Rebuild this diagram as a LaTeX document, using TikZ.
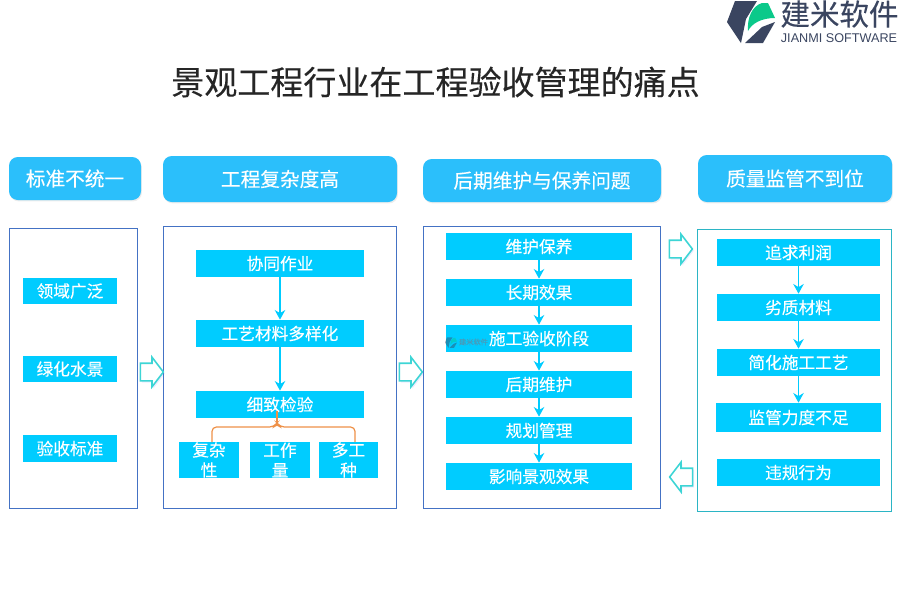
\documentclass[tikz,border=0pt]{standalone}
\usepackage{fontspec}
\setmainfont[FakeBold=0.25]{Noto Sans CJK SC}
\newfontfamily\latinfont{Liberation Sans}
\usetikzlibrary{shapes.arrows,shadows,arrows.meta}
\definecolor{headblue}{HTML}{2BBFFB}
\definecolor{itemblue}{HTML}{00CCFF}
\definecolor{framein}{HTML}{4472C4}
\definecolor{frameteal}{HTML}{2BB5C5}
\definecolor{arrowteal}{HTML}{3DD5D5}
\definecolor{logodark}{HTML}{3A4560}
\definecolor{logogreen}{HTML}{0BC98A}
\definecolor{bracketorange}{HTML}{EE9148}
\tikzset{
  wh/.style 2 args={minimum width=#1*0.02cm, minimum height=#2*0.02cm},
  headbox/.style={fill=headblue, rounded corners=5pt, inner sep=0pt, text=white, font=\fontsize{11.2pt}{13pt}\selectfont,
    drop shadow={shadow xshift=0.5pt, shadow yshift=-0.8pt, opacity=0.15}},
  itembox/.style={fill=itemblue, inner sep=0pt, text=white, font=\fontsize{9.5pt}{11.4pt}\selectfont, align=center},
  flow/.style={draw=itemblue, line width=0.7pt, -{Stealth[length=5.5pt,width=6pt]}},
  frameline/.style={line width=0.6pt},
  blockarrow/.style={single arrow, draw=arrowteal, fill=white, line width=0.9pt, inner xsep=0pt, inner ysep=0.16cm,
    minimum height=23*0.02cm, single arrow head extend=0.12cm, single arrow tip angle=105,
    drop shadow={shadow xshift=0.8pt, shadow yshift=-1pt, opacity=0.12, fill=blue!60}},
  bracket/.style={draw=bracketorange, line width=0.7pt, rounded corners=2.5pt},
  logomark/.pic={
    \fill[logodark] (735,1) -- (757,1) -- (746,19) -- (741,43) -- (727,22) -- cycle;
    \fill[logodark] (745,43) -- (762,27) -- (775,22) -- (763,43) -- cycle;
    \fill[logogreen] (748,31) .. controls (747,18) and (752,6) .. (762,3) -- (768,3) -- (775,18)
      .. controls (762,18) and (752,23) .. (748,31) -- cycle;
  }
}
\begin{document}
\begin{tikzpicture}[x=0.02cm,y=-0.02cm]
  \useasboundingbox (0,0) rectangle (900,600);
  % logo
  \pic at (0,0) {logomark};
  \node[text=logodark, inner sep=0pt, font=\fontsize{16.8pt}{18pt}\selectfont] (logoname) at (839.5,14) {建米软件};
  \node[text=logodark, inner sep=0pt, font=\latinfont\fontsize{7.2pt}{8pt}\selectfont] (logoen) at (839,38) {JIANMI SOFTWARE};
  % title
  \node[inner sep=0pt, text=black!85, font=\fontsize{18.8pt}{22pt}\selectfont] (title) at (435.5,82) {景观工程行业在工程验收管理的痛点};
  % headers
  \node[headbox,wh={132}{43}] (head1) at (75,178.5) {标准不统一};
  \node[headbox,wh={234}{46}] (head2) at (280,179) {工程复杂度高};
  \node[headbox,wh={238}{43}] (head3) at (542,180.5) {后期维护与保养问题};
  \node[headbox,wh={194}{47}] (head4) at (795,178.5) {质量监管不到位};
  % frames
  \draw[framein,frameline] (9.5,228.5) rectangle (137.5,508.5);
  \draw[framein,frameline] (163.5,226.5) rectangle (396.5,508.5);
  \draw[framein,frameline] (423.5,226.5) rectangle (660.5,508.5);
  \draw[frameteal,frameline] (697.5,229.5) rectangle (891.5,511.5);
  % column 1
  \foreach \t/\y[count=\n] in {领域广泛/291,绿化水景/369,验收标准/448.5}{
    \node[itembox,wh={94}{26.5}] (a\n) at (70,\y) {\t};
  }
  % column 2
  \foreach \t/\y[count=\n] in {协同作业/263.5,工艺材料多样化/333.5,细致检验/404.5}{
    \node[itembox,wh={168}{27}] (b\n) at (280,\y) {\t};
  }
  \draw[flow] (b1) -- (b2);
  \draw[flow] (b2) -- (b3);
  \node[itembox,wh={60}{36}] (c1) at (209,460) {复杂\\性};
  \node[itembox,wh={60}{36}] (c2) at (280,460) {工作\\量};
  \node[itembox,wh={59}{36}] (c3) at (348.5,460) {多工\\种};
  \coordinate (brtop) at (277,411);
  \coordinate (brmid) at (277,423);
  \coordinate (brleft) at (212,442);
  \coordinate (brright) at (355,442);
  \draw[bracket] (brleft) |- (274,427) -- (brmid) -- (280,427) -| (brright);
  \draw[bracket] (brtop) -- (brmid);
  % column 3
  \foreach \t/\y[count=\n] in {维护保养/246.5,长期效果/292.5,施工验收阶段/338.5,后期维护/384.5,规划管理/430.5,影响景观效果/476.5}{
    \node[itembox,wh={186}{27}] (d\n) at (539,\y) {\t};
  }
  \foreach \i[count=\n from 2] in {1,...,5}{
    \draw[flow] (d\i) -- (d\n);
  }
  % column 4
  \foreach \t/\y[count=\n] in {追求利润/252.5,劣质材料/307.5,简化施工工艺/362.5,监管力度不足/417.5,违规行为/472.5}{
    \ifnum\n=4
      \node[itembox,wh={165}{29}] (e\n) at (798.5,\y) {\t};
    \else
      \node[itembox,wh={163}{27}] (e\n) at (798.5,\y) {\t};
    \fi
  }
  \foreach \i[count=\n from 2] in {1,...,3}{
    \draw[flow] (e\i) -- (e\n);
  }
  % watermark
  \begin{scope}[opacity=0.45,shift={(445,337)},x=0.005cm,y=-0.005cm]
    \pic at (-727,0) {logomark};
  \end{scope}
  \node[text=logodark!70, opacity=0.5, inner sep=0pt, font=\fontsize{4.1pt}{5pt}\selectfont] (mark) at (473.5,342) {建米软件};
  % block arrows
  \node[blockarrow] (go1) at (148.5,372) {};
  \node[blockarrow] (go2) at (407.5,372) {};
  \node[blockarrow] (go3) at (677.5,249) {};
  \node[blockarrow,shape border rotate=180] (go4) at (684.5,477) {};
\end{tikzpicture}
\end{document}
